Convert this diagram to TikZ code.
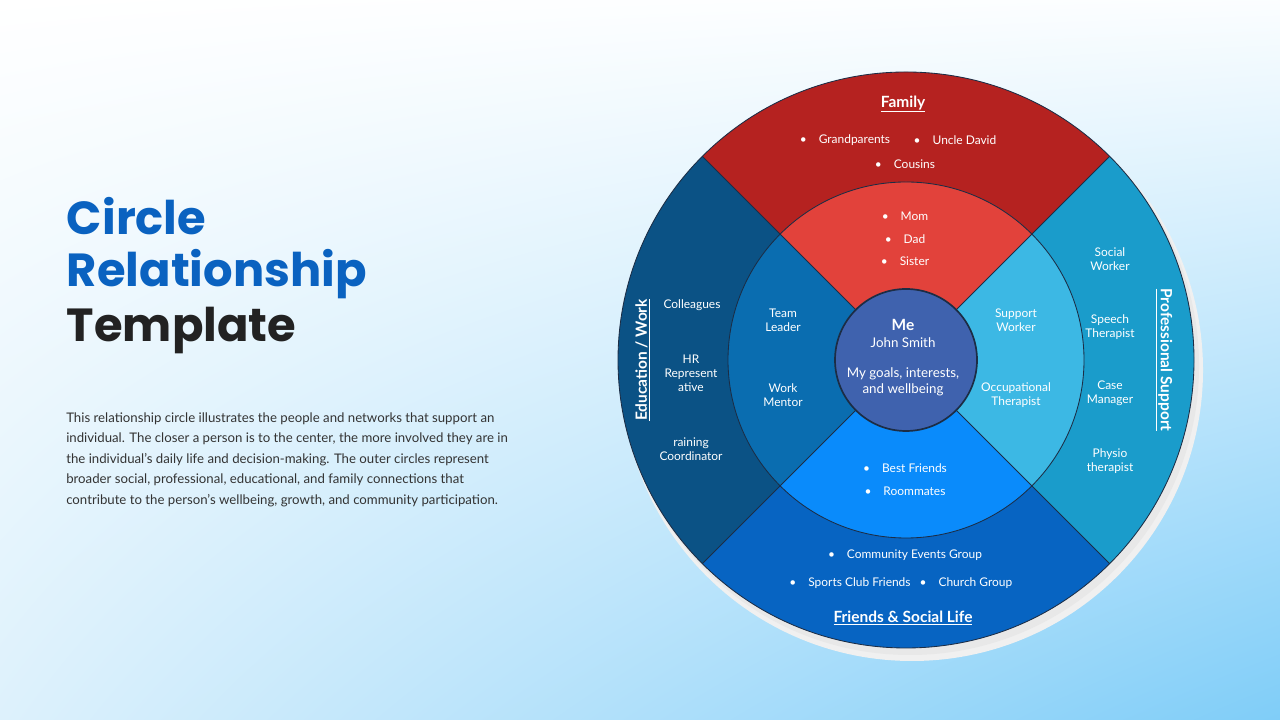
\documentclass[tikz,border=0pt]{standalone}
\usepackage{fontspec}
\setmainfont{Lato}
\newfontfamily\titlefont{Poppins}
\usetikzlibrary{positioning,shadings}

\definecolor{famOut}{HTML}{B52220}
\definecolor{famIn}{HTML}{E2423B}
\definecolor{eduOut}{HTML}{0B5285}
\definecolor{eduIn}{HTML}{0A6DB0}
\definecolor{proOut}{HTML}{1A9CCB}
\definecolor{proIn}{HTML}{3CB8E4}
\definecolor{socOut}{HTML}{0764C2}
\definecolor{socIn}{HTML}{0A8BFB}
\definecolor{meFill}{HTML}{3F62AE}
\definecolor{edgeCol}{HTML}{1C2D45}
\definecolor{titleBlue}{HTML}{0A62C0}
\definecolor{titleDark}{HTML}{222222}
\definecolor{bodyText}{HTML}{333333}
\definecolor{bgCorner}{HTML}{7FCDF8}
\definecolor{bgMid}{HTML}{DDF1FC}

\tikzset{
  item/.style={text=white, font=\fontsize{8.5}{10}\selectfont, align=center},
  head/.style={text=white, font=\fontsize{11}{13}\selectfont\bfseries},
  ring/.style={draw=edgeCol, line width=0.6pt},
  big/.style={anchor=west, font=\titlefont\fontsize{33}{40}\selectfont\bfseries},
}
\newcommand{\uhead}[1]{\underline{#1}}

\begin{document}
\begin{tikzpicture}[x=0.025cm,y=0.025cm]
  % background
  \shade[upper left=white, upper right=white!97!bgCorner, lower left=bgMid,
         lower right=bgCorner] (0,0) rectangle (1280,720);
  \useasboundingbox (0,0) rectangle (1280,720);

  % shadow
  \fill[black!6] (912,350) circle (291);
  \fill[black!9] (910,354) circle (289);

  \begin{scope}[shift={(906,360)}]
    % outer ring
    \fill[famOut] (45:288) arc(45:135:288) -- (0,0) -- cycle;
    \fill[eduOut] (135:288) arc(135:225:288) -- (0,0) -- cycle;
    \fill[socOut] (225:288) arc(225:315:288) -- (0,0) -- cycle;
    \fill[proOut] (-45:288) arc(-45:45:288) -- (0,0) -- cycle;
    % middle ring
    \fill[famIn] (45:178) arc(45:135:178) -- (0,0) -- cycle;
    \fill[eduIn] (135:178) arc(135:225:178) -- (0,0) -- cycle;
    \fill[socIn] (225:178) arc(225:315:178) -- (0,0) -- cycle;
    \fill[proIn] (-45:178) arc(-45:45:178) -- (0,0) -- cycle;
    % dividers
    \foreach \a in {45,135,225,315}
      \draw[ring] (\a:71) -- (\a:288);
    \draw[ring] (0,0) circle (288);
    \draw[ring] (0,0) circle (178);
    \fill[meFill] (0,0) circle (71);
    \draw[ring, line width=1.2pt] (0,0) circle (71);
  \end{scope}

  % title and text
  \node[big, text=titleBlue] (tA) at (62,504) {Circle};
  \node[big, text=titleBlue] (tB) at (62,446) {Relationship};
  \node[big, text=titleDark] (tC) at (62,389) {Template};
  \node[anchor=north west, inner sep=0, align=left, text=bodyText,
        font=\fontsize{9.4}{14.6}\selectfont] (desc) at (66,308)
    {This relationship circle illustrates the people and networks that support an\\
     individual. The closer a person is to the center, the more involved they are in\\
     the individual's daily life and decision-making. The outer circles represent\\
     broader social, professional, educational, and family connections that\\
     contribute to the person's wellbeing, growth, and community participation.};

  % center
  \node[head] (me) at (903,395) {Me};
  \node[item, font=\fontsize{9.5}{11}\selectfont] (name) at (903,377) {John Smith};
  \node[item, font=\fontsize{9.5}{11.5}\selectfont] (goals) at (903,338) {My goals, interests,\\and wellbeing};

  % family
  \node[head] (famT) at (903,616) {\uhead{Family}};
  \node[item] (grand) at (845,580) {•\quad Grandparents};
  \node[item] (uncle) at (955,580) {•\quad Uncle David};
  \node[item] (cous) at (905,556) {•\quad Cousins};
  \node[item] (mom) at (905,504) {•\quad Mom};
  \node[item] (dad) at (905,481) {•\quad Dad};
  \node[item] (sis) at (905,459) {•\quad Sister};

  % education / work
  \node[head, rotate=90] (eduT) at (643,360) {\uhead{Education / Work}};
  \node[item] (coll) at (692,415) {Colleagues};
  \node[item] (hr) at (691,347) {HR\\Represent\\ative};
  \node[item] (coord) at (691,271) {raining\\Coordinator};
  \node[item] (lead) at (783,400) {Team\\Leader};
  \node[item] (mentor) at (783,325) {Work\\Mentor};

  % professional support
  \node[head, rotate=-90] (proT) at (1164,360) {\uhead{Professional Support}};
  \node[item] (social) at (1110,461) {Social\\Worker};
  \node[item] (speech) at (1110,393) {Speech\\Therapist};
  \node[item] (case) at (1110,327) {Case\\Manager};
  \node[item] (physio) at (1110,259) {Physio\\therapist};
  \node[item] (supp) at (1016,400) {Support\\Worker};
  \node[item] (occ) at (1016,325) {Occupational\\Therapist};

  % friends
  \node[item] (best) at (905,252) {•\quad Best Friends};
  \node[item] (room) at (905,229) {•\quad Roommates};
  \node[item] (comm) at (905,165) {•\quad Community Events Group};
  \node[item] (sport) at (850,137) {•\quad Sports Club Friends};
  \node[item] (church) at (966,137) {•\quad Church Group};
  \node[head] (socT) at (903,102) {\uhead{Friends \& Social Life}};
\end{tikzpicture}
\end{document}
